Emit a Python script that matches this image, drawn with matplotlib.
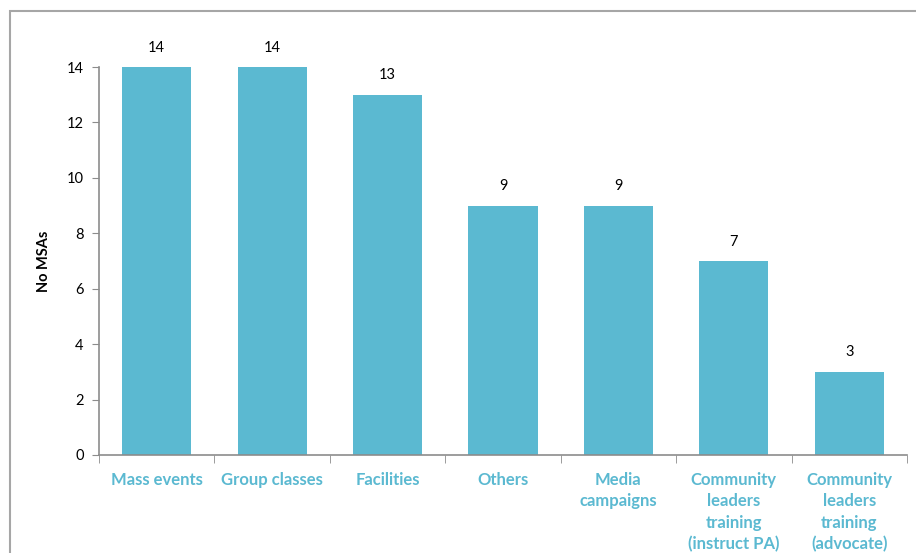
import matplotlib.pyplot as plt
from matplotlib.patches import Rectangle

categories = ["Mass events", "Group classes", "Facilities", "Others",
              "Media\ncampaigns", "Community\nleaders\ntraining\n(instruct PA)",
              "Community\nleaders\ntraining\n(advocate)"]
counts = [14, 14, 13, 9, 9, 7, 3]
yticks = [0, 2, 4, 6, 8, 10, 12, 14]

bar_color = "#5bb9d1"
axis_gray = "#8c8c8c"

plt.rcParams["font.family"] = ["Lato", "DejaVu Sans"]

fig = plt.figure(figsize=(9.16, 5.53), dpi=100)
ax = fig.add_axes([99 / 916, 1 - 455 / 553, (907 - 99) / 916, (455 - 67) / 553])

# outer frame
fig.patches.append(Rectangle((9.5 / 916, -0.1), 1.2, 1 - 11 / 553 + 0.1,
                             transform=fig.transFigure, fill=False,
                             edgecolor="#a6a6a6", linewidth=1.5))

x = list(range(len(categories)))
ax.bar(x, counts, width=0.6, color=bar_color, zorder=2)
for xi, v in zip(x, counts):
    ax.text(xi, v + 0.45, str(v), ha="center", va="bottom", fontsize=10.5,
            color="black")

ax.set_xlim(-0.5, len(categories) - 0.5)
ax.set_ylim(0, 14)
ax.set_yticks(yticks)
ax.tick_params(axis="y", length=5, color=axis_gray, labelsize=10.5, pad=6)

ax.set_xticks(x)
ax.set_xticklabels(categories, fontsize=12, fontweight="bold", color=bar_color,
                   linespacing=1.42, va="top")
ax.tick_params(axis="x", length=0, pad=12)
ax.set_xticks([i - 0.5 for i in range(len(categories) + 1)], minor=True)
ax.tick_params(axis="x", which="minor", length=6, color=axis_gray)

for side in ["top", "right"]:
    ax.spines[side].set_visible(False)
for side in ["left", "bottom"]:
    ax.spines[side].set_color(axis_gray)
    ax.spines[side].set_linewidth(1.2)

ax.set_ylabel("No MSAs", fontsize=10.5, fontweight="bold", labelpad=11)

fig.savefig("out.png", dpi=100)
